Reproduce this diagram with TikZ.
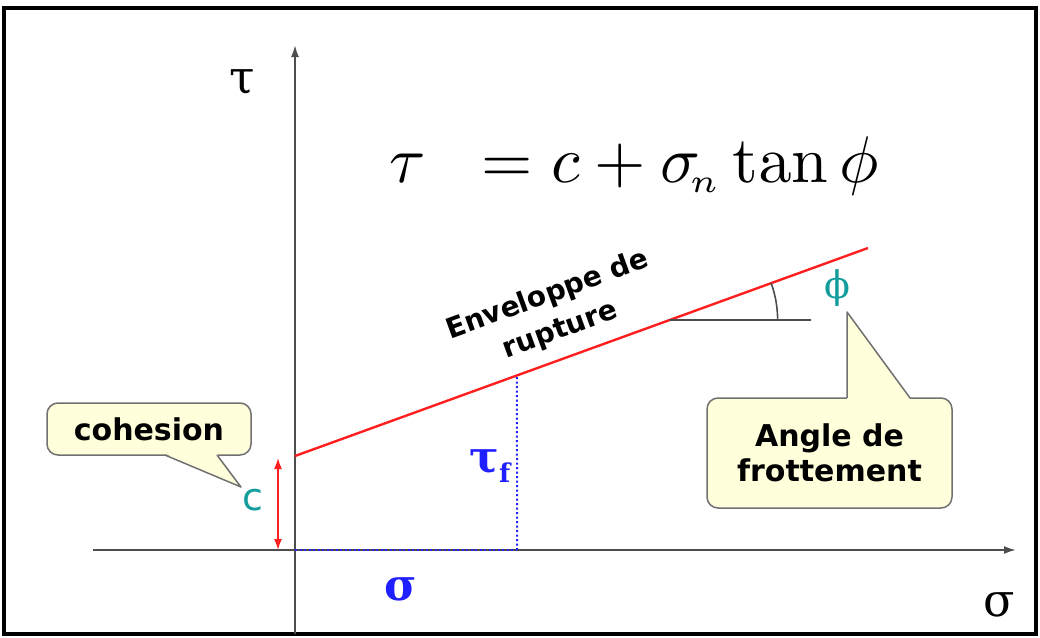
\documentclass[tikz,border=0pt]{standalone}
\usepackage[no-math]{fontspec}
\newfontfamily\labelsans{DejaVu Sans}
\newfontfamily\greekserif{DejaVu Serif}
\usetikzlibrary{arrows.meta,calc}
\definecolor{Axis}{HTML}{4D4D4D}
\definecolor{Rupt}{HTML}{FF1F1F}
\definecolor{Stress}{HTML}{1F1FFF}
\definecolor{Coh}{HTML}{139C9C}
\definecolor{BubFill}{HTML}{FFFFDC}
\definecolor{BubLine}{HTML}{707070}
\tikzset{
 axis/.style={draw=Axis,line width=2pt,-{Latex[length=12pt,width=8pt]}},
 rupt/.style={draw=Rupt,line width=2.4pt},
 proj/.style={draw=Stress,line width=2pt,dash pattern=on 2pt off 2.5pt},
 bubble/.style={draw=BubLine,fill=BubFill,line width=1.5pt,rounded corners=11pt,
   align=center,inner sep=0pt,font=\labelsans\bfseries\fontsize{30}{35}\selectfont},
 pointer/.style={draw=BubLine,line width=1.5pt,line join=round},
 axlabel/.style={font=\greekserif\fontsize{46}{46}\selectfont,inner sep=0pt},
 stresslabel/.style={text=Stress,font=\greekserif\bfseries\fontsize{44}{44}\selectfont,inner sep=0pt},
 tealabel/.style={text=Coh,inner sep=0pt}
}
\begin{document}
\begin{tikzpicture}[x=1pt,y=-1pt]
\useasboundingbox (0,0) rectangle (1040,637);
\draw[line width=4pt] (4,8) rectangle (1036,634);
% axes
\coordinate (O) at (295,550);
\coordinate (xl) at (93,550);
\coordinate (xr) at (1016,550);
\coordinate (yb) at (295,634);
\coordinate (yt) at (295,45);
\draw[axis] (xl)--(xr);
\draw[axis] (yb)--(yt);
\node[axlabel] (taulab) at (242,82) {τ};
\node[axlabel] (siglab) at (999,605) {σ};
% law
\node[scale=6.6,inner sep=0pt] (law) at (634,166) {$\tau\hspace{0.57em}= c+\sigma_{\!\scriptscriptstyle n}\tan\phi$};
% envelope
\coordinate (env0) at (295,456);
\coordinate (env1) at (868,248);
\coordinate (tf) at ($(env0)!0.3874!(env1)$);
\coordinate (tfb) at (517,550);
\draw[proj] (O)--(tfb);
\draw[proj] (tfb)--(tf);
\draw[rupt] (env0)--(env1);
\node[rotate=20,align=center,inner sep=0pt,font=\labelsans\bfseries\fontsize{28}{37}\selectfont] (envlab) at (554,313) {Enveloppe de\\rupture};
% friction angle
\coordinate (knee) at ($(env0)!0.6538!(env1)$);
\coordinate (hz) at (811,320);
\draw[Axis,line width=1.6pt] (knee)--(hz);
\draw[Axis,line width=1.6pt] ($(knee)+(108,0)$) arc[start angle=0,end angle=-20,radius=108];
\node[tealabel,font=\greekserif\fontsize{38}{38}\selectfont] (philab) at (837,288) {ϕ};
% cohesion
\coordinate (c0) at (278,550);
\coordinate (c1) at (278,458);
\draw[draw=Rupt,line width=1.6pt,{Latex[length=11pt,width=8pt]}-{Latex[length=11pt,width=8pt]}] (c0)--(c1);
\node[tealabel,font=\labelsans\fontsize{38}{38}\selectfont] (clab) at (253,500) {c};
\node[stresslabel] (taufl) at (490,466) {τ\raisebox{-10pt}{\fontsize{26}{26}\selectfont f}};
\node[stresslabel] (sigl) at (401,589) {σ};
% callouts
\node[bubble,minimum width=204pt,minimum height=52pt] (coh) at (149,429) {cohesion};
\coordinate (ctip) at (241,487);
\fill[BubFill] ($(coh.south)+(16,-2)$) -- (ctip) -- ($(coh.south)+(68,-2)$) -- cycle;
\draw[pointer] ($(coh.south)+(16,-0.7)$) -- (ctip) -- ($(coh.south)+(68,-0.7)$);
\node[bubble,minimum width=245pt,minimum height=110pt] (frot) at (829.5,453) {Angle de\\frottement};
\coordinate (ftip) at (847,312);
\fill[BubFill] ($(frot.north)+(17.5,2)$) -- (ftip) -- ($(frot.north)+(80.5,2)$) -- cycle;
\draw[pointer] ($(frot.north)+(17.5,0.7)$) -- (ftip) -- ($(frot.north)+(80.5,0.7)$);
\end{tikzpicture}
\end{document}
